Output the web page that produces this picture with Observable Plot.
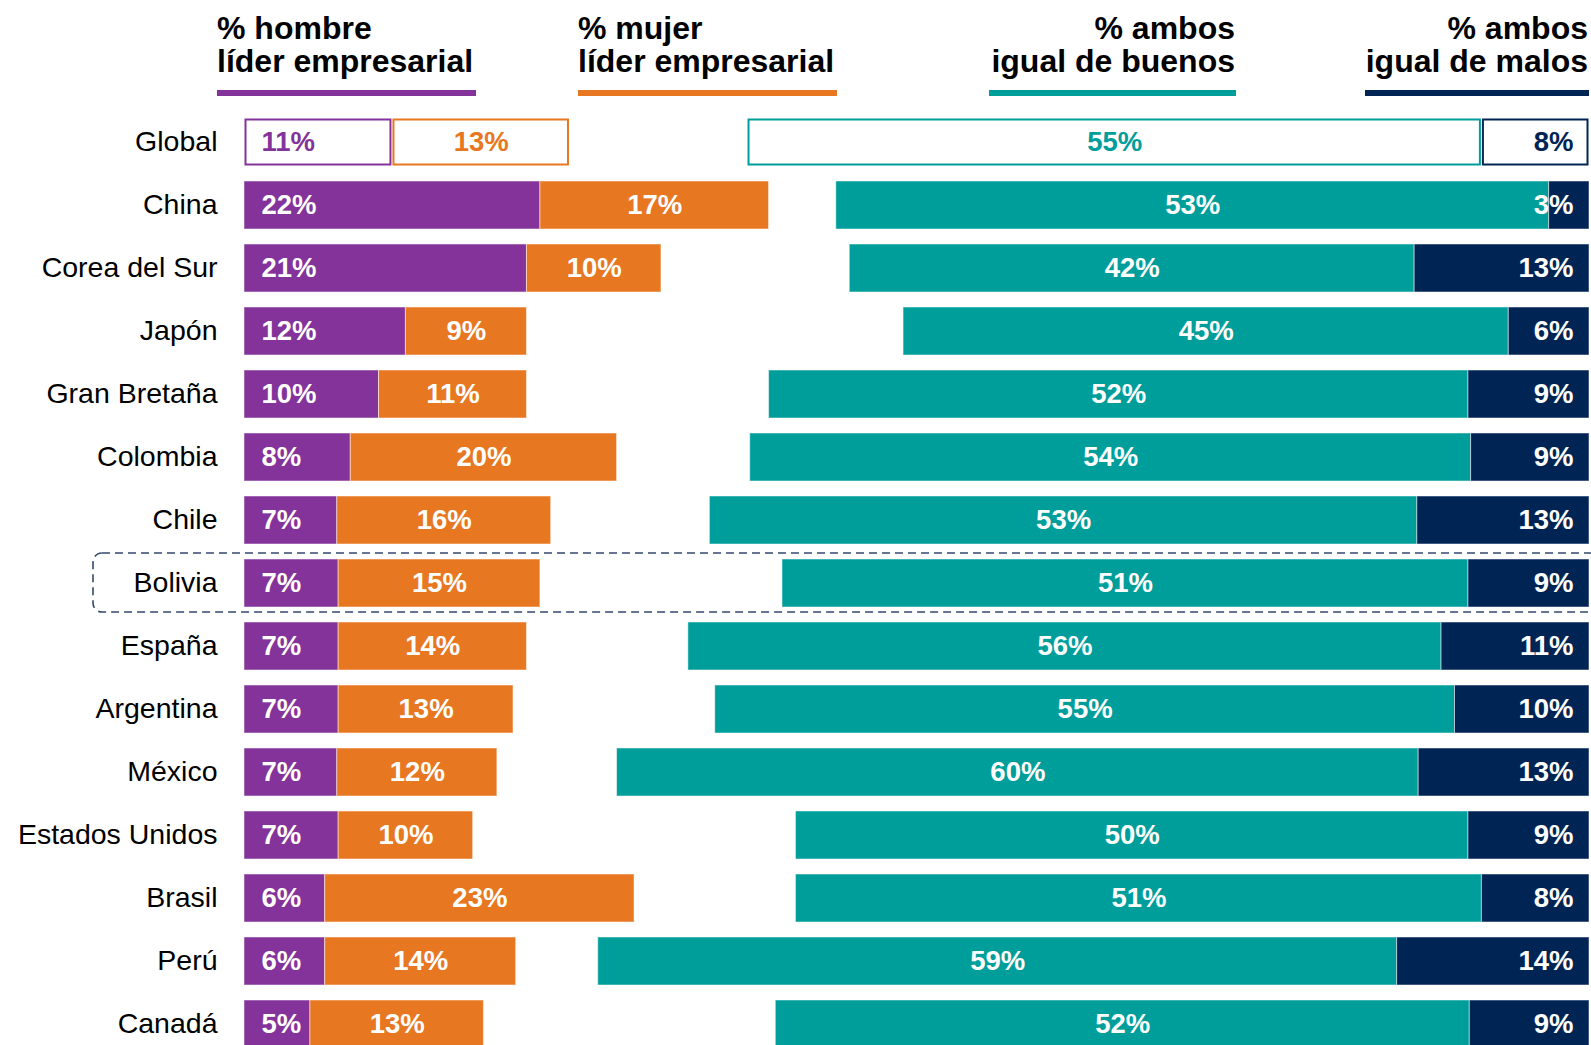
<!DOCTYPE html>
<html>
<head>
<meta charset="utf-8">
<script src="https://cdn.jsdelivr.net/npm/d3@7"></script>
<script src="https://cdn.jsdelivr.net/npm/@observablehq/plot@0.6"></script>
<style>
  html, body { margin: 0; padding: 0; background: #fff; }
  #wrap { position: relative; width: 1591px; height: 1045px; overflow: hidden; font-family: "Liberation Sans", Arial, sans-serif; }
  #chart { position: absolute; left: 0; top: 0; }
  .hdr { position: absolute; top: 11.6px; font-size: 32px; font-weight: bold; line-height: 33.5px; color: #000; white-space: nowrap; }
  .uline { position: absolute; top: 90px; height: 6px; }
</style>
</head>
<body>
<div id="wrap">
  <div id="chart"></div>
</div>
<script>
const countries = ["Global","China","Corea del Sur","Japón","Gran Bretaña","Colombia","Chile","Bolivia","España","Argentina","México","Estados Unidos","Brasil","Perú","Canadá"];
const men   = [11,  22, 21, 12, 10, 7.9, 6.9, 7, 7, 7, 6.9, 7, 6, 6.0, 4.9];
const women = [13.2,17, 10,  9, 11, 19.8,15.9,15,14,13,11.9,10,23,14.2,12.9];
const good  = [54.6,53, 42, 45, 52, 53.6,52.6,51,56,55,59.6,50,51,59.4,51.6];
const bad   = [ 8,   3, 13,  6,  9, 8.8, 12.8, 9,11,10,12.7, 9, 8,14.3, 8.9];
const seriesKeys = ["men","women","good","bad"];
const seriesNames = ["% hombre\nlíder empresarial","% mujer\nlíder empresarial","% ambos\nigual de buenos","% ambos\nigual de malos"];
const seriesColors = ["#833399","#E87722","#009E9B","#002554"];
const summaryRow = "Global";
const highlight = "Bolivia";

const color = Object.fromEntries(seriesKeys.map((k,i)=>[k, seriesColors[i]]));
const segs = countries.flatMap((c,i) => {
  const m = men[i], w = women[i], g = good[i], b = bad[i];
  return [
    {country:c, key:"men",   x1:0,         x2:m,       v:m},
    {country:c, key:"women", x1:m,         x2:m+w,     v:w},
    {country:c, key:"good",  x1:100-b-g,   x2:100-b,   v:g},
    {country:c, key:"bad",   x1:100-b,     x2:100,     v:b}
  ];
});
const filled = segs.filter(d => d.country !== summaryRow);
const outlined = segs.filter(d => d.country === summaryRow);
const lblFill = d => d.country === summaryRow ? color[d.key] : "white";
const fmt = d => Math.round(d.v) + "%";

const plot = Plot.plot({
  width: 1591,
  height: 1045,
  marginLeft: 244,
  marginRight: 2,
  marginTop: 0,
  marginBottom: 0,
  style: {fontFamily: "'Liberation Sans', Arial, sans-serif", background: "white", overflow: "visible"},
  x: {domain: [0, 100], axis: null},
  y: {type: "band", domain: countries, range: [101.7, 1064.1], padding: 0.245, axis: null},
  marks: [
    Plot.barX(filled, {y: "country", x1: "x1", x2: "x2", fill: d => color[d.key], stroke: "white", strokeWidth: 1, strokeOpacity: 0.5}),
    Plot.barX(outlined, {y: "country", x1: "x1", x2: "x2", fill: "white", stroke: d => color[d.key], strokeWidth: 2, inset: 1.5}),
    Plot.barX([highlight], {y: d => d, x1: 0, x2: 100, insetLeft: -151, insetRight: -30, insetTop: -6, insetBottom: -5, rx: 9, fill: "none", stroke: "#34496c", strokeWidth: 1.6, strokeDasharray: "8,5"}),
    Plot.text(segs.filter(d => d.key === "men"), {y: "country", x: "x1", text: fmt, textAnchor: "start", dx: 17, fill: lblFill, fontSize: 27.5, fontWeight: "bold"}),
    Plot.text(segs.filter(d => d.key === "women" || d.key === "good"), {y: "country", x: d => (d.x1 + d.x2) / 2, text: fmt, textAnchor: "middle", fill: lblFill, fontSize: 27.5, fontWeight: "bold"}),
    Plot.text(segs.filter(d => d.key === "bad"), {y: "country", x: "x2", text: fmt, textAnchor: "end", dx: -16, fill: lblFill, fontSize: 27.5, fontWeight: "bold"}),
    Plot.text(countries, {y: d => d, frameAnchor: "left", textAnchor: "end", dx: -27, dy: -1, fontSize: 28.5, fill: "#000"})
  ]
});
document.getElementById("chart").appendChild(plot);

// Header legend (text + coloured underline per series)
const wrap = document.getElementById("wrap");
const hdrPos = [
  {left: 217, ul: [217, 476], align: "left"},
  {left: 578, ul: [578, 837], align: "left"},
  {right: 1235, ul: [989, 1236], align: "right"},
  {right: 1588, ul: [1365, 1589], align: "right"}
];
seriesNames.forEach((name, i) => {
  const p = hdrPos[i];
  const t = document.createElement("div");
  t.className = "hdr";
  t.style.textAlign = p.align;
  if (p.align === "left") t.style.left = p.left + "px";
  else t.style.right = (1591 - p.right) + "px";
  name.split("\n").forEach((line, j) => {
    if (j) t.appendChild(document.createElement("br"));
    t.appendChild(document.createTextNode(line));
  });
  wrap.appendChild(t);
  const u = document.createElement("div");
  u.className = "uline";
  u.style.left = p.ul[0] + "px";
  u.style.width = (p.ul[1] - p.ul[0]) + "px";
  u.style.background = seriesColors[i];
  wrap.appendChild(u);
});
</script>
</body>
</html>
